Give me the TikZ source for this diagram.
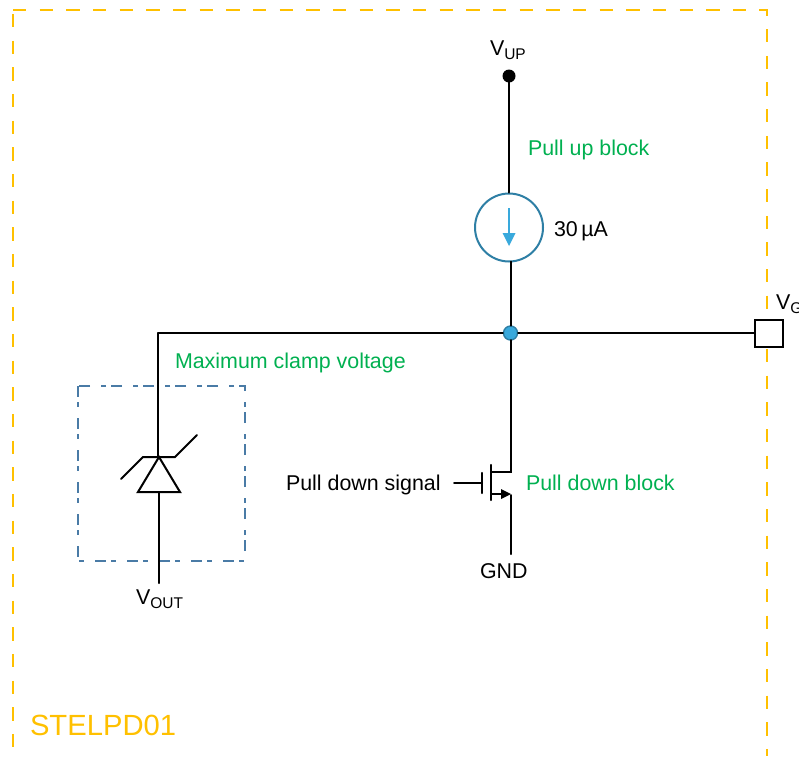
\documentclass[tikz,border=0pt]{standalone}
\usepackage{fontspec}
\setmainfont{Liberation Sans}
\usetikzlibrary{arrows.meta}
\definecolor{frameyellow}{HTML}{FFC000}
\definecolor{stgreen}{HTML}{00B050}
\definecolor{boxblue}{HTML}{4A7BA6}
\definecolor{srcring}{HTML}{2E7FA5}
\definecolor{srcblue}{HTML}{39A9DC}
\tikzset{
  wire/.style={line width=2pt,black,line cap=round},
  lab/.style={anchor=base west,inner sep=0pt,outer sep=0pt,font=\fontsize{21.4}{24}\selectfont,black},
  glab/.style={lab,text=stgreen},
  pin/.style={draw=black,fill=white,line width=2pt,minimum width=28pt,minimum height=27pt,inner sep=0pt},
  framedash/.style={frameyellow,line width=2.2pt,dash pattern=on 13.33pt off 13.33pt},
}
\newcommand{\subs}[1]{\raisebox{-0.2em}{\fontsize{15.5}{17}\selectfont #1}}
\begin{document}
\begin{tikzpicture}[x=1pt,y=-1pt]
\useasboundingbox (0,0) rectangle (799,756);
\clip (0,0) rectangle (799,756);
% outer frame
\draw[framedash] (13,14) -- (13,756);
\draw[framedash] (13,10) -- (767,10) -- (767,756);
\node[lab,text=frameyellow,font=\fontsize{29.2}{32}\selectfont] (name) at (30,735) {STELPD01};
% clamp box
\draw[boxblue,line width=2.3pt,dash pattern=on 11pt off 5pt on 5pt off 11pt] (78,386) rectangle (245,561);
% nodes
\coordinate (up) at (509,76);
\node[circle,draw=srcring,fill=white,line width=2pt,minimum size=68pt,inner sep=0pt] (src) at (509,227.5) {};
\node[circle,fill=srcblue,draw=srcring,line width=1.4pt,minimum size=14pt,inner sep=0pt] (junc) at (510.5,333) {};
\node[pin] (vg) at (769,333) {};
\coordinate (zbar) at (159,457);
\coordinate (zwest) at (143,457);
\coordinate (zeast) at (175,457);
\coordinate (zl) at (121,479);
\coordinate (zr) at (197,435);
\coordinate (zbl) at (138,492);
\coordinate (zbr) at (180,492);
\coordinate (zb) at (159,492);
\coordinate (zout) at (159,583);
\coordinate (corner) at (158,333);
\coordinate (ztop) at (158,457);
\coordinate (dtop) at (511,472);
\coordinate (ch) at (491,472);
\coordinate (chT) at (491,465);
\coordinate (chB) at (491,500);
\coordinate (gT) at (482,473);
\coordinate (gB) at (482,493);
\coordinate (gm) at (482,483);
\coordinate (gin) at (454,483);
\coordinate (sch) at (491,494);
\coordinate (shd) at (502,494);
\coordinate (stip) at (511,494);
\coordinate (sbot) at (511,495);
\coordinate (gnd) at (511,554);
\coordinate (srcb) at (511,261.5);
\coordinate (jn) at (511,325.5);
\coordinate (js) at (511,340);
% wires
\draw[wire] (up) -- (src.north);
\fill[black] (up) circle (6.5pt);
\draw[wire] (srcb) -- (jn);
\draw[wire] (js) -- (dtop) -- (ch);
\draw[wire] (corner) -- (junc.west);
\draw[wire] (junc.east) -- (vg.west);
\draw[wire] (corner) -- (ztop);
\draw[wire] (zl) -- (zwest) -- (zeast) -- (zr);
\draw[wire,line join=miter] (zbar) -- (zbr) -- (zbl) -- cycle;
\draw[wire] (zb) -- (zout);
\draw[wire,line width=2.4pt] (chT) -- (chB);
\draw[wire,line width=2.4pt] (gT) -- (gB);
\draw[wire] (gin) -- (gm);
\draw[wire] (sch) -- (shd);
\fill[black] (stip) -- (501,489) -- (501,499) -- cycle;
\draw[wire] (sbot) -- (gnd);
% current arrow
\draw[srcblue,line width=2pt] (509,208) -- (509,234);
\fill[srcblue] (509,246) -- (502.5,233) -- (515.5,233) -- cycle;
% labels
\node[lab] (vup) at (490,55) {V\subs{UP}};
\node[lab] (vgl) at (776,309) {V\subs{G}};
\node[lab] (vout) at (136,604) {V\subs{OUT}};
\node[lab] (ua) at (554,236) {30\,µA};
\node[lab] (pds) at (286,490) {Pull down signal};
\node[lab] (gndl) at (480,578) {GND};
\node[glab] (pub) at (528,155) {Pull up block};
\node[glab] (mcv) at (175,368) {Maximum clamp voltage};
\node[glab] (pdb) at (526,490) {Pull down block};
\end{tikzpicture}
\end{document}
